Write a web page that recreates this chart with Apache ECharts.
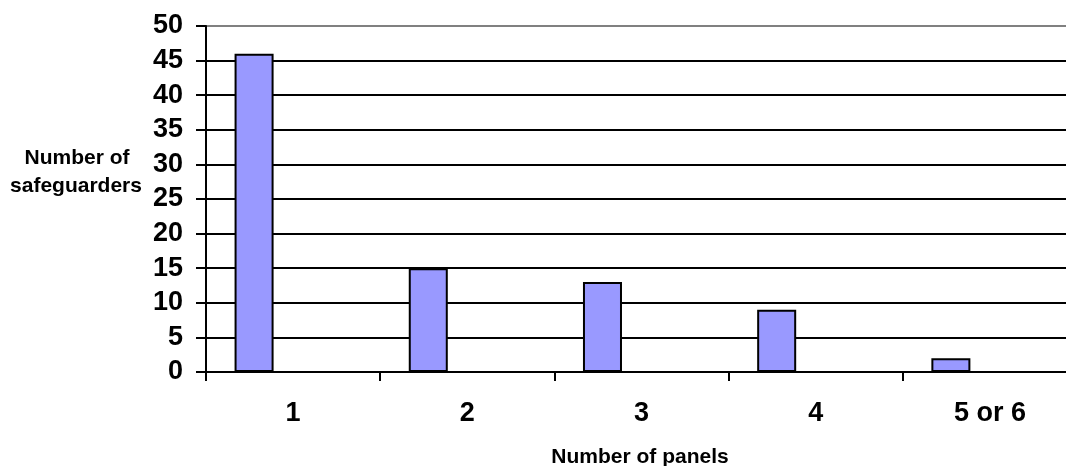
<!DOCTYPE html>
<html>
<head>
<meta charset="utf-8">
<script src="https://cdn.jsdelivr.net/npm/echarts@6/dist/echarts.min.js"></script>
<style>
html,body{margin:0;padding:0;background:#fff;overflow:hidden;width:1066px;height:466px;}
#chart{width:1077px;height:466px;}
</style>
</head>
<body>
<div id="chart"></div>
<script>
const categories = ['1', '2', '3', '4', '5 or 6'];
const safeguarders = [46, 15, 13, 9, 2];
const emptySeriesB = [null, null, null, null, null];
const emptySeriesC = [null, null, null, null, null];
const yTicks = [0, 5, 10, 15, 20, 25, 30, 35, 40, 45, 50];

const chart = echarts.init(document.getElementById('chart'));
const gridColors = yTicks.map((v, i) => i === yTicks.length - 1 ? '#808080' : '#000000');
const font = 'Liberation Sans';

chart.setOption({
  animation: false,
  grid: { left: 206, right: 0, top: 26, bottom: 94, containLabel: false },
  xAxis: {
    type: 'category',
    data: categories,
    boundaryGap: true,
    axisLine: { lineStyle: { color: '#000', width: 2 } },
    axisTick: { show: true, length: 9, alignWithLabel: false, lineStyle: { color: '#000', width: 2 } },
    axisLabel: { color: '#000', fontFamily: font, fontWeight: 'bold', fontSize: 27, margin: 28 },
    splitLine: { show: false }
  },
  yAxis: {
    type: 'value',
    min: 0,
    max: 50,
    interval: 5,
    axisLine: { show: true, lineStyle: { color: '#000', width: 2 } },
    axisTick: { show: true, length: 10, lineStyle: { color: '#000', width: 2 } },
    axisLabel: { color: '#000', fontFamily: font, fontWeight: 'bold', fontSize: 27, margin: 23 },
    splitLine: { show: true, lineStyle: { color: gridColors, width: 2 } }
  },
  graphic: [
    { type: 'text', x: 77, y: 158, style: { text: 'Number of', font: 'bold 21px "Liberation Sans"', fill: '#000', align: 'center', verticalAlign: 'middle' } },
    { type: 'text', x: 76, y: 186, style: { text: 'safeguarders', font: 'bold 21px "Liberation Sans"', fill: '#000', align: 'center', verticalAlign: 'middle' } },
    { type: 'text', x: 640, y: 457, style: { text: 'Number of panels', font: 'bold 21px "Liberation Sans"', fill: '#000', align: 'center', verticalAlign: 'middle' } }
  ],
  series: [
    { name: 'Safeguarders', type: 'bar', data: safeguarders, barGap: '0%', barCategoryGap: '32.8%',
      itemStyle: { color: '#9999FF', borderColor: '#000', borderWidth: 2 } },
    { name: 'B', type: 'bar', data: emptySeriesB, barGap: '0%', barCategoryGap: '32.8%' },
    { name: 'C', type: 'bar', data: emptySeriesC, barGap: '0%', barCategoryGap: '32.8%' }
  ]
});
</script>
</body>
</html>
